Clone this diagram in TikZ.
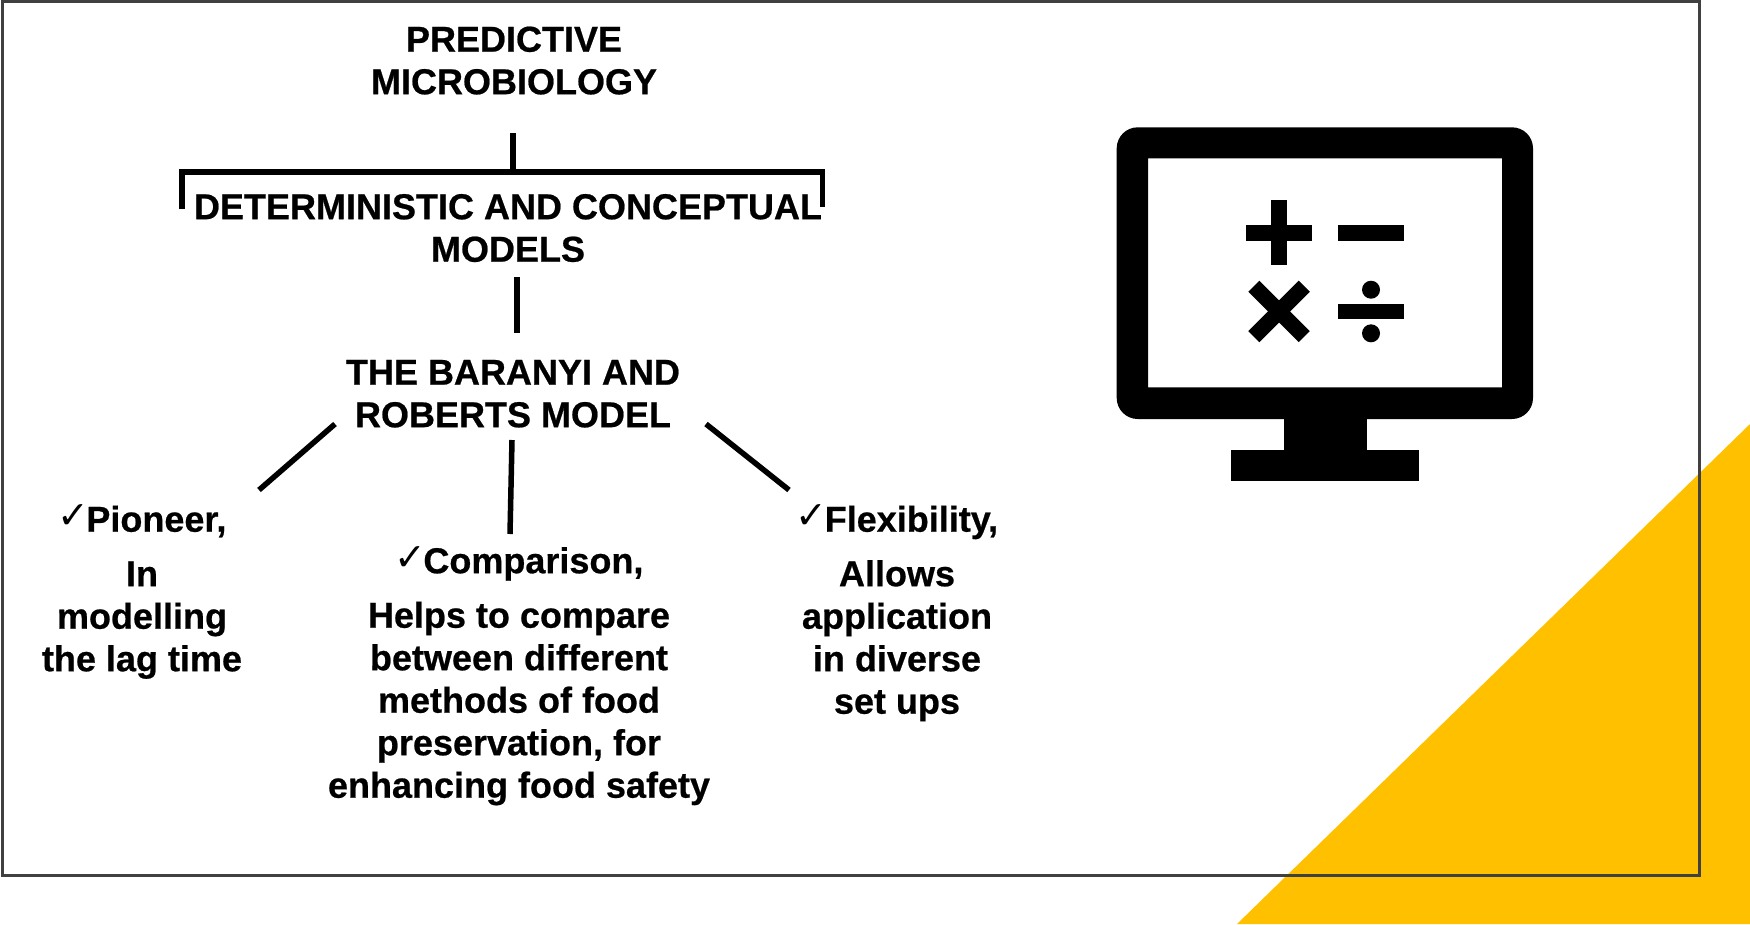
\documentclass[tikz,border=0pt]{standalone}
\usepackage{fontspec}
\setmainfont[BoldFeatures={FakeBold=0.6}]{Liberation Sans}
\newfontfamily\chk{DejaVu Sans}
\newcommand{\fl}{\rule{0pt}{30pt}}
\newcommand{\tick}{{\chk\fontsize{38}{38}\selectfont\raisebox{3pt}{✓}}\kern-3pt}
\definecolor{amber}{HTML}{FFC000}
\definecolor{framegrey}{HTML}{404040}
\tikzset{
  label text/.style={anchor=north,inner sep=0pt,align=center,text=black,
    font=\bfseries\fontsize{36}{42.5}\selectfont},
  link/.style={draw=black,line width=5.5pt},
  icon/.style={fill=black,draw=none}
}
\begin{document}
\begin{tikzpicture}[x=1pt,y=-1pt]
\useasboundingbox (0,0) rectangle (1750,924);
\fill[white] (0,0) rectangle (1750,924);
% corner triangle
\fill[amber] (1750,424) -- (1750,924) -- (1237,924) -- cycle;
% frame
\draw[framegrey,line width=3pt] (2.5,1.5) rectangle (1699,875);
% monitor
\fill[icon,even odd rule,rounded corners=0pt]
  [rounded corners=21pt] (1116.7,127.3) rectangle (1533,419)
  [sharp corners] (1148,158.3) rectangle (1502,387.3);
\fill[icon] (1283.7,410) rectangle (1366.7,455);
\fill[icon] (1231.3,450.3) rectangle (1419,481.3);
\fill[icon] (1246.3,225) rectangle (1311.7,240.7);
\fill[icon] (1271.3,200) rectangle (1286.7,265.3);
\fill[icon] (1338.3,225) rectangle (1403.7,240.7);
\draw[black,line width=15.7pt] (1253.8,286.2) -- (1304.2,336.6);
\draw[black,line width=15.7pt] (1304.2,286.2) -- (1253.8,336.6);
\fill[icon] (1338.3,303.7) rectangle (1403.7,319.3);
\fill[icon] (1371,289.7) circle (9);
\fill[icon] (1371,333.3) circle (9);
% text
\node[label text] (title) at (514,21.5) {\fl PREDICTIVE\\MICROBIOLOGY};
\node[label text] (det) at (508,189) {\fl DETERMINISTIC AND CONCEPTUAL\\MODELS};
\node[label text] (bar) at (513,354.5) {\fl THE BARANYI AND\\ROBERTS MODEL};
\node[label text] (pio) at (142,501.5) {\fl\tick Pioneer,\\[12pt]In\\modelling\\the lag time};
\node[label text] (com) at (519,543) {\fl\tick Comparison,\\[12pt]Helps to compare\\between different\\methods of food\\preservation, for\\enhancing food safety};
\node[label text] (fle) at (897,501.5) {\fl\tick Flexibility,\\[12pt]Allows\\application\\in diverse\\set ups};
% connector ends
\coordinate (t1) at (513,133);
\coordinate (t2) at (513,172);
\coordinate (bl) at (182,209);
\coordinate (br) at (822.5,207);
\coordinate (bl2) at (182,172);
\coordinate (br2) at (822.5,172);
\coordinate (d1) at (517,277);
\coordinate (d2) at (517,333);
\coordinate (a1) at (335,424);
\coordinate (a2) at (259,490);
\coordinate (b1) at (512,440);
\coordinate (b2) at (510,534);
\coordinate (c1) at (706,424);
\coordinate (c2) at (789,490);
\draw[link] (t1) -- (t2);
\draw[link,line cap=butt] (bl) -- (bl2) -- (br2) -- (br);
\draw[link] (d1) -- (d2);
\draw[link] (a1) -- (a2);
\draw[link] (b1) -- (b2);
\draw[link] (c1) -- (c2);
\end{tikzpicture}
\end{document}
